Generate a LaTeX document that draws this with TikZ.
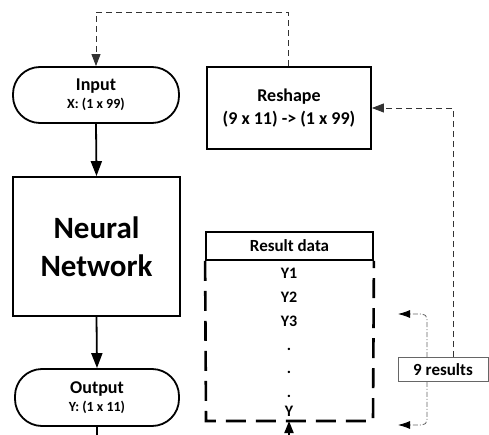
\documentclass[tikz,border=0pt]{standalone}
\usepackage{fontspec}
\setmainfont{Carlito}
\usetikzlibrary{arrows.meta}
\begin{document}
\begin{tikzpicture}[x=1pt,y=-1pt,
  font=\bfseries,
  pill/.style={draw,line width=1.8pt,rounded corners=27pt,align=center,inner sep=0pt,
    font=\bfseries\fontsize{18}{22}\selectfont},
  block/.style={draw,line width=1.8pt,align=center,inner sep=0pt},
  flow/.style={line width=1.8pt,-{Triangle[length=15pt,width=11pt]}},
  loop/.style={draw=black!80,line width=0.9pt,dash pattern=on 6pt off 4pt,-{Triangle[length=12pt,width=9pt]}},
  pick/.style={draw=black!60,line width=0.8pt,dash pattern=on 5pt off 2pt on 1pt off 2pt,rounded corners=5pt,-{Latex[length=12pt,width=8pt,black]}},
  row/.style={font=\bfseries\fontsize{16}{16}\selectfont,anchor=base}
]
\useasboundingbox (0,0) rectangle (489,435);

% flowchart column
\node[pill,minimum width=166pt,minimum height=56pt] (in) at (96,95)
  {Input\\[-4pt]{\fontsize{14}{15}\selectfont X: (1 x 99)}};
\node[block,minimum width=167pt,minimum height=139pt,
  font=\bfseries\fontsize{31}{38}\selectfont] (nn) at (96.5,246.5)
  {Neural\\Network};
\node[pill,minimum width=164pt,minimum height=57pt] (out) at (97,397.5)
  {Output\\[-4pt]{\fontsize{14}{15}\selectfont Y: (1 x 11)}};
\coordinate (outend) at (97,435);

\draw[flow] (in.south) -- (nn.north);
\draw[flow] (nn.south) -- (out.north);
\draw[line width=1.8pt] (out.south) -- (outend);

% reshape step
\node[block,minimum width=164pt,minimum height=82pt,
  font=\bfseries\fontsize{18}{23}\selectfont] (reshape) at (289,108)
  {Reshape\\(9 x 11) -> (1 x 99)};

% result table
\node[block,minimum width=167pt,minimum height=28pt,
  font=\bfseries\fontsize{17}{18}\selectfont] (head) at (289.5,246)
  {Result data};
\coordinate (bl) at (206,421);
\coordinate (br) at (373,421);
\draw[line width=2.6pt,dash pattern=on 20pt off 10pt]
  (head.south west) -- (bl) -- (br) -- (head.south east);
\node[row] (y1) at (289,278) {Y1};
\node[row] (y2) at (289,302) {Y2};
\node[row] (y3) at (289,326) {Y3};
\node[row] (d1) at (289,350) {.};
\node[row] (d2) at (289,373) {.};
\node[row] (d3) at (289,397) {.};
\node[row] (yn) at (289,416) {Y};
\coordinate (tin) at (289,421);
\coordinate (tinstart) at (289,435);
\draw[line width=1.8pt,-{Triangle[length=12pt,width=9pt]}] (tinstart) -- (tin);

% batch of results
\node[draw=black!60,line width=0.8pt,minimum width=90pt,minimum height=24pt,inner sep=0pt,
  font=\bfseries\fontsize{17}{18}\selectfont] (nine) at (443,369.5) {9 results};
\coordinate (ptop) at (398,314);
\coordinate (pbot) at (398,425);
\draw[pick] (nine.north west -| 427,0) -- (427,314) -- (ptop);
\draw[pick] (nine.south west -| 427,0) -- (427,425) -- (pbot);

% feedback loops
\draw[loop] (nine.north west -| 453,0) -- (453,108) -- (reshape.east);
\draw[loop] (reshape.north west -| 288,0) -- (288,12) -- (96,12) -- (in.north);
\end{tikzpicture}
\end{document}
